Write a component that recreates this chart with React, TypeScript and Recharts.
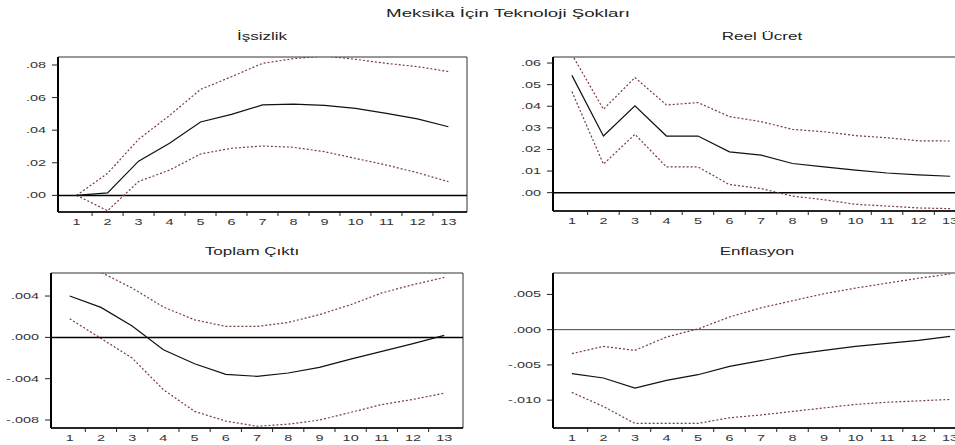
import { Line, LineChart, ReferenceArea, ReferenceLine, XAxis, YAxis } from "recharts"

// horizons (periods after the shock)
const horizons = [1, 2, 3, 4, 5, 6, 7, 8, 9, 10, 11, 12, 13]
const bandTicks = [1.5, 2.5, 3.5, 4.5, 5.5, 6.5, 7.5, 8.5, 9.5, 10.5, 11.5, 12.5]

// İşsizlik
const issizlikMid = [0.0, 0.0015, 0.021, 0.032, 0.045, 0.0497, 0.0555, 0.056, 0.0552, 0.0534, 0.0503, 0.0469, 0.0421]
const issizlikHi = [0.0, 0.0135, 0.0344, 0.049, 0.065, 0.0728, 0.081, 0.0839, 0.0855, 0.0835, 0.081, 0.079, 0.076]
const issizlikLo = [0.0, -0.0094, 0.0085, 0.0155, 0.0254, 0.0289, 0.0303, 0.0295, 0.0268, 0.0227, 0.0186, 0.0139, 0.0084]

// Reel Ücret
const ucretMid = [0.0543, 0.0262, 0.0402, 0.0262, 0.0262, 0.0189, 0.0174, 0.0135, 0.0119, 0.0104, 0.0091, 0.0082, 0.0076]
const ucretHi = [0.064, 0.0386, 0.0533, 0.0406, 0.0417, 0.0352, 0.0329, 0.0293, 0.0282, 0.0264, 0.0254, 0.024, 0.0239]
const ucretLo = [0.0468, 0.0132, 0.027, 0.0119, 0.0119, 0.0037, 0.0019, -0.0016, -0.0033, -0.0054, -0.0062, -0.0071, -0.0074]

// Toplam Çıktı
const ciktiMid = [0.004, 0.0029, 0.0011, -0.0012, -0.00255, -0.00358, -0.00377, -0.00345, -0.0029, -0.0021, -0.00135, -0.0006, 0.0002]
const ciktiHi = [0.0065, 0.0063, 0.00477, 0.00294, 0.0017, 0.00106, 0.00106, 0.00145, 0.0022, 0.00316, 0.0043, 0.0051, 0.0058]
const ciktiLo = [0.0018, -0.0001, -0.002, -0.00506, -0.00716, -0.0081, -0.0086, -0.0084, -0.008, -0.00726, -0.0065, -0.006, -0.0054]

// Enflasyon
const enfMid = [-0.00624, -0.00686, -0.00828, -0.00719, -0.00639, -0.0052, -0.0044, -0.00355, -0.00293, -0.00237, -0.00194, -0.00151, -0.00095]
const enfHi = [-0.0034, -0.00237, -0.00293, -0.00104, 0.0001, 0.0018, 0.0031, 0.0041, 0.0051, 0.0059, 0.0066, 0.0073, 0.0079]
const enfLo = [-0.0089, -0.0109, -0.0133, -0.0133, -0.0133, -0.0125, -0.0121, -0.0116, -0.0111, -0.0106, -0.0103, -0.0101, -0.0099]

const FONT = "'Liberation Sans', Arial, sans-serif"
const STRETCH = 1.7
const BAND_COLOR = "#7a3b3b"

const fmt = (v: number, d: number) => v.toFixed(d).replace("0.", ".")

function XTick(props: any) {
  const { x, y, payload } = props
  const v = payload.value
  if (Number.isInteger(v)) {
    return (
      <g transform={`translate(${x},${y + 10}) scale(${STRETCH},1)`}>
        <text textAnchor="middle" dy="0.35em" fontSize={8.5} fill="#333" fontFamily={FONT}>{v}</text>
      </g>
    )
  }
  return <line x1={x} x2={x} y1={y - 1} y2={y + 4} stroke="#222" />
}

function makeYTick(decimals: number) {
  return (props: any) => {
    const { x, y, payload } = props
    return (
      <g transform={`translate(${x},${y}) scale(${STRETCH},1)`}>
        <text textAnchor="end" dy="0.35em" fontSize={8.5} fill="#333" fontFamily={FONT}>
          {fmt(payload.value, decimals)}
        </text>
      </g>
    )
  }
}

interface PanelProps {
  left: number
  top: number
  width: number
  height: number
  marginTop: number
  marginRight: number
  yWidth: number
  domain: [number, number]
  ticks: number[]
  decimals: number
  mid: number[]
  hi: number[]
  lo: number[]
  thinZero?: boolean
}

function IrfPanel(p: PanelProps) {
  const rows = horizons.map((h, i) => ({ h, mid: p.mid[i], hi: p.hi[i], lo: p.lo[i] }))
  return (
    <div style={{ position: "absolute", left: p.left, top: p.top }}>
      <LineChart
        width={p.width}
        height={p.height}
        data={rows}
        margin={{ top: p.marginTop, right: p.marginRight, bottom: 3, left: 0 }}
      >
        <XAxis
          dataKey="h"
          type="number"
          domain={[0.4, 13.6]}
          allowDataOverflow
          ticks={[...horizons, ...bandTicks].sort((a, b) => a - b)}
          interval={0}
          tickLine={false}
          tickSize={0}
          tickMargin={0}
          height={20}
          tick={<XTick />}
          axisLine={{ stroke: "#000", strokeWidth: 1.5 }}
        />
        <YAxis
          type="number"
          domain={p.domain}
          allowDataOverflow
          ticks={p.ticks}
          interval={0}
          width={p.yWidth}
          tickSize={6}
          tickMargin={6}
          tickLine={{ stroke: "#222" }}
          tick={makeYTick(p.decimals)}
          axisLine={{ stroke: "#000", strokeWidth: 2 }}
        />
        <ReferenceArea x1={0.4} x2={13.6} y1={p.domain[0]} y2={p.domain[1]} fill="none" stroke="#333" strokeWidth={1} />
        <ReferenceLine y={0} stroke={p.thinZero ? "#444" : "#000"} strokeWidth={p.thinZero ? 1 : 1.5} />
        <Line type="linear" dataKey="hi" stroke={BAND_COLOR} strokeWidth={1.2} strokeDasharray="2 2" dot={false} isAnimationActive={false} />
        <Line type="linear" dataKey="lo" stroke={BAND_COLOR} strokeWidth={1.2} strokeDasharray="2 2" dot={false} isAnimationActive={false} />
        <Line type="linear" dataKey="mid" stroke="#111" strokeWidth={1.2} dot={false} isAnimationActive={false} />
      </LineChart>
    </div>
  )
}

function Title({ x, y, size, text }: { x: number; y: number; size: number; text: string }) {
  return (
    <div
      style={{
        position: "absolute",
        left: x,
        top: y,
        transform: `translate(-50%, -50%) scaleX(${STRETCH})`,
        fontFamily: FONT,
        fontSize: size,
        whiteSpace: "nowrap",
        color: "#222",
        lineHeight: 1,
      }}
    >
      {text}
    </div>
  )
}

export default function App() {
  return (
    <div
      style={{
        position: "fixed",
        left: 0,
        top: 0,
        width: 955,
        height: 445,
        overflow: "hidden",
        background: "#fff",
      }}
    >
      <IrfPanel
        left={0} top={0} width={480} height={235} marginTop={57} marginRight={13} yWidth={58}
        domain={[-0.0102, 0.0849]} ticks={[0, 0.02, 0.04, 0.06, 0.08]} decimals={2}
        mid={issizlikMid} hi={issizlikHi} lo={issizlikLo}
      />
      <IrfPanel
        left={480} top={0} width={500} height={234} marginTop={57} marginRight={11} yWidth={73}
        domain={[-0.0085, 0.0628]} ticks={[0, 0.01, 0.02, 0.03, 0.04, 0.05, 0.06]} decimals={2}
        mid={ucretMid} hi={ucretHi} lo={ucretLo}
      />
      <IrfPanel
        left={0} top={230} width={480} height={221} marginTop={43} marginRight={17} yWidth={51}
        domain={[-0.00877, 0.00623]} ticks={[-0.008, -0.004, 0, 0.004]} decimals={3}
        mid={ciktiMid} hi={ciktiHi} lo={ciktiLo}
      />
      <IrfPanel
        left={480} top={230} width={500} height={221} marginTop={43} marginRight={11} yWidth={73}
        domain={[-0.01395, 0.00804]} ticks={[-0.01, -0.005, 0, 0.005]} decimals={3}
        mid={enfMid} hi={enfHi} lo={enfLo} thinZero
      />
      <Title x={508} y={13} size={11} text="Meksika İçin Teknoloji Şokları" />
      <Title x={262} y={37} size={10} text="İşsizlik" />
      <Title x={762} y={37} size={10} text="Reel Ücret" />
      <Title x={252} y={252} size={10} text="Toplam Çıktı" />
      <Title x={757} y={252} size={10} text="Enflasyon" />
    </div>
  )
}
